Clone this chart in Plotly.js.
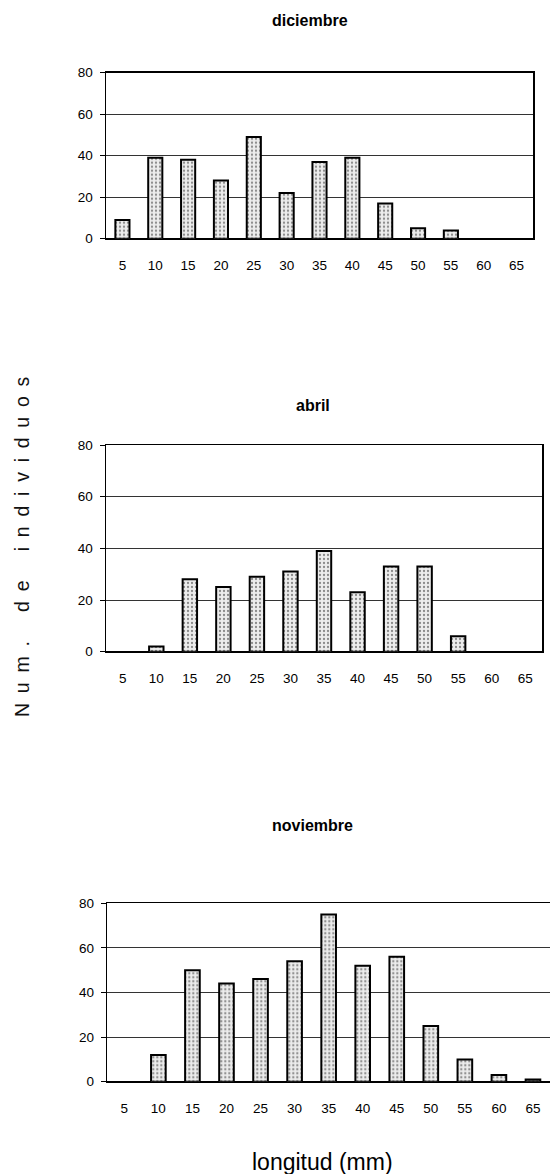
<!DOCTYPE html>
<html>
<head>
<meta charset="utf-8">
<script src="https://cdn.plot.ly/plotly-3.0.1.min.js"></script>
<style>
html,body{margin:0;padding:0;background:#fff;}
#chart{width:550px;height:1174px;}
</style>
</head>
<body>
<div id="chart"></div>
<script>
// Data
const longitudes = ["5","10","15","20","25","30","35","40","45","50","55","60","65"];
const diciembre  = [9, 39, 38, 28, 49, 22, 37, 39, 17, 5, 4, 0, 0];
const abril      = [0, 2, 28, 25, 29, 31, 39, 23, 33, 33, 6, 0, 0];
const noviembre  = [0, 12, 50, 44, 46, 54, 75, 52, 56, 25, 10, 3, 1];
const panelTitles = ["diciembre", "abril", "noviembre"];
const yTickVals = [0, 20, 40, 60, 80];
const xTitle = "longitud (mm)";
const yTitle = "Num. de individuos";

const W = 550, H = 1174;
const FONT = "Liberation Sans, Arial, sans-serif";

function barTrace(vals, xa, ya) {
  return {
    type: "bar", x: longitudes,
    y: vals.map(v => (v === 0 ? null : v)),
    xaxis: xa, yaxis: ya,
    width: 0.43,
    marker: {
      color: "#e4e4e4",
      line: {color: "#000", width: 2},
      pattern: {shape: ".", fgcolor: "#8a8a8a", bgcolor: "#ececec", size: 4, solidity: 0.25}
    },
    hoverinfo: "x+y", showlegend: false
  };
}

// pixel boxes [left, right, top, bottom]
const boxes = [
  [106, 533, 72.7, 238.7],
  [106, 542, 445, 651.7],
  [107.3, 550, 903.3, 1081.7]
];

const layout = {
  width: W, height: H,
  margin: {l: 0, r: 0, t: 0, b: 0},
  paper_bgcolor: "#fff", plot_bgcolor: "#fff",
  font: {family: FONT, color: "#000", size: 13},
  showlegend: false,
  annotations: []
};

const data = [];
const series = [diciembre, abril, noviembre];
const titlePos = [[310, 20], [313, 405], [312, 825]];

for (let i = 0; i < 3; i++) {
  const b = boxes[i];
  const xk = i === 0 ? "xaxis" : "xaxis" + (i + 1);
  const yk = i === 0 ? "yaxis" : "yaxis" + (i + 1);
  const xr = i === 0 ? "x" : "x" + (i + 1);
  const yr = i === 0 ? "y" : "y" + (i + 1);
  data.push(barTrace(series[i], xr, yr));
  layout[xk] = {
    domain: [b[0] / W, Math.min(1, b[1] / W)],
    anchor: yr,
    type: "category",
    range: [-0.5, 12.5],
    showgrid: false, zeroline: false,
    showline: true, linecolor: "#000", linewidth: 1.5, mirror: true,
    ticks: "", ticklabelstandoff: 14,
    tickfont: {size: 13.5, family: FONT, color: "#000"},
    fixedrange: true
  };
  layout[yk] = {
    domain: [1 - b[3] / H, 1 - b[2] / H],
    anchor: xr,
    range: [0, 80],
    tickvals: yTickVals,
    showgrid: true, gridcolor: "#333", gridwidth: 1,
    zeroline: true, zerolinecolor: "#000", zerolinewidth: 1.5,
    showline: true, linecolor: "#000", linewidth: 1.5, mirror: true,
    ticks: "outside", ticklen: 5, tickcolor: "#000", tickwidth: 1,
    ticklabelstandoff: 4,
    tickfont: {size: 13.5, family: FONT, color: "#000"},
    fixedrange: true
  };
  layout.annotations.push({
    text: "<b>" + panelTitles[i] + "</b>",
    xref: "paper", yref: "paper",
    x: titlePos[i][0] / W, y: 1 - titlePos[i][1] / H,
    xanchor: "center", yanchor: "middle", showarrow: false,
    font: {size: 16, family: FONT, color: "#000"}
  });
}

layout.annotations.push({
  text: xTitle, xref: "paper", yref: "paper",
  x: 322 / W, y: 1 - 1162 / H, xanchor: "center", yanchor: "middle",
  showarrow: false, font: {size: 23, family: FONT, color: "#000"}
});

const spaced = yTitle.split("").map(c => c === " " ? "\u2002" : c).join("\u2002");
layout.annotations.push({
  text: spaced, xref: "paper", yref: "paper",
  x: 22 / W, y: 1 - 547 / H, xanchor: "center", yanchor: "middle",
  textangle: -90, showarrow: false,
  font: {size: 19.5, family: FONT, color: "#111"}
});

Plotly.newPlot("chart", data, layout, {displayModeBar: false, staticPlot: true});
</script>
</body>
</html>
